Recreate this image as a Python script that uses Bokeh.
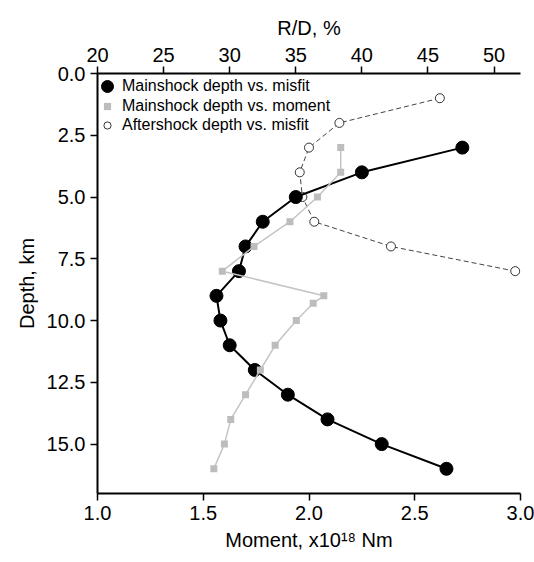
from bokeh.plotting import figure
from bokeh.models import (Range1d, LinearAxis, FixedTicker, NumeralTickFormatter,
                          Legend, LegendItem)
from bokeh.embed import file_html
from bokeh.resources import INLINE

# ---- data ----
depth_main = [3, 4, 5, 6, 7, 8, 9, 10, 11, 12, 13, 14, 15, 16]
rd_main = [47.6, 40.0, 35.0, 32.5, 31.2, 30.7, 29.0, 29.3, 30.0, 31.9, 34.4, 37.4, 41.5, 46.4]

depth_moment = [3, 4, 5, 6, 7, 8, 9, 9.3, 10, 11, 12, 13, 14, 15, 16]
moment_main = [2.15, 2.15, 2.04, 1.91, 1.74, 1.59, 2.07, 2.02, 1.94, 1.84, 1.77, 1.70, 1.63, 1.60, 1.55]

depth_after = [1, 2, 3, 4, 5, 6, 7, 8]
rd_after = [45.9, 38.3, 36.0, 35.3, 35.5, 36.4, 42.2, 51.6]

moment_ticks = [1.0, 1.5, 2.0, 2.5, 3.0]
rd_ticks = [20, 25, 30, 35, 40, 45, 50]
depth_ticks = [0.0, 2.5, 5.0, 7.5, 10.0, 12.5, 15.0]

label_main = "Mainshock depth vs. misfit"
label_moment = "Mainshock depth vs. moment"
label_after = "Aftershock depth vs. misfit"

FONT = "Liberation Sans"

p = figure(width=534, height=562, x_range=Range1d(1.0, 3.0), y_range=Range1d(17, 0),
           output_backend="svg", toolbar_location=None,
           min_border_left=97, min_border_right=14, min_border_top=73, min_border_bottom=69)
p.extra_x_ranges = {"rd": Range1d(20, 52)}
p.outline_line_color = None
p.xgrid.visible = False
p.ygrid.visible = False
p.background_fill_color = "white"


def style_axis(ax):
    ax.axis_line_width = 2
    ax.axis_line_color = "black"
    ax.major_tick_line_width = 1.5
    ax.major_tick_line_color = "black"
    ax.major_tick_out = 7
    ax.major_tick_in = 0
    ax.minor_tick_line_color = None
    ax.major_label_text_font = FONT
    ax.major_label_text_font_size = "20px"
    ax.major_label_text_color = "black"
    ax.axis_label_text_font = FONT
    ax.axis_label_text_font_size = "20px"
    ax.axis_label_text_font_style = "normal"
    ax.axis_label_text_color = "black"
    ax.major_label_standoff = 5
    ax.axis_label_standoff = 6


xb = p.xaxis[0]
xb.ticker = FixedTicker(ticks=moment_ticks)
xb.formatter = NumeralTickFormatter(format="0.0")
xb.axis_label = "Moment, x10\u00b9\u2078 Nm"
style_axis(xb)

yl = p.yaxis[0]
yl.ticker = FixedTicker(ticks=depth_ticks)
yl.formatter = NumeralTickFormatter(format="0.0")
yl.axis_label = "Depth, km"
style_axis(yl)

xt = LinearAxis(x_range_name="rd", axis_label="R/D, %", ticker=FixedTicker(ticks=rd_ticks))
style_axis(xt)
p.add_layout(xt, "above")

# aftershock (dashed, open circles) on top axis
p.line(rd_after, depth_after, x_range_name="rd", line_color="#444444", line_width=1,
       line_dash="5 3")
after_sc = p.scatter(rd_after, depth_after, x_range_name="rd", marker="circle", size=9,
                     fill_color="white", line_color="#333333", line_width=1)

# mainshock misfit (black) on top axis
p.line(rd_main, depth_main, x_range_name="rd", line_color="black", line_width=2)
main_sc = p.scatter(rd_main, depth_main, x_range_name="rd", marker="circle", size=13,
                    fill_color="black", line_color="black")

# mainshock moment (gray) on bottom axis
p.line(moment_main, depth_moment, line_color="#c4c4c4", line_width=1.5)
mom_sc = p.scatter(moment_main, depth_moment, marker="square", size=7,
                   fill_color="#bdbdbd", line_color=None)


def make_legend(label, renderer, gsize, standoff, loc):
    lg = Legend(items=[LegendItem(label=label, renderers=[renderer])],
                location=loc, glyph_width=gsize, glyph_height=gsize,
                label_height=gsize, label_standoff=standoff, padding=0, margin=0,
                spacing=0, border_line_color=None, background_fill_alpha=0,
                label_text_font=FONT, label_text_font_size="16px",
                label_text_color="black")
    p.add_layout(lg)


make_legend(label_main, main_sc, 30, 0, (-5, 392))
make_legend(label_moment, mom_sc, 18, 6, (1, 378))
make_legend(label_after, after_sc, 18, 6, (1, 359))

open("out.html", "w").write(file_html(p, INLINE))
